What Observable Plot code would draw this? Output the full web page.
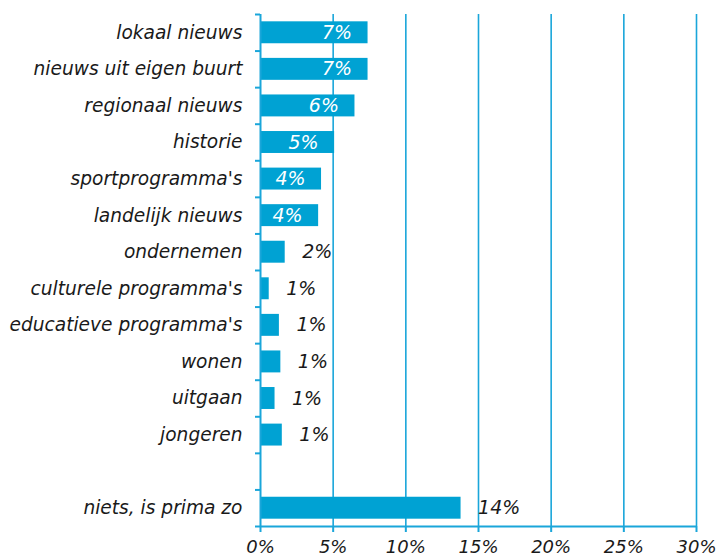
<!DOCTYPE html>
<html><head><meta charset="utf-8">
<script src="https://cdn.jsdelivr.net/npm/d3@7"></script>
<script src="https://cdn.jsdelivr.net/npm/@observablehq/plot@0.6"></script>
<style>body{margin:0;background:#fff}</style>
</head><body><div id="chart"></div>
<script>
const categories = ["lokaal nieuws", "nieuws uit eigen buurt", "regionaal nieuws", "historie", "sportprogramma's", "landelijk nieuws", "ondernemen", "culturele programma's", "educatieve programma's", "wonen", "uitgaan", "jongeren", "", "niets, is prima zo"];
const values = [7.4, 7.4, 6.5, 5.1, 4.2, 4.0, 1.7, 0.6, 1.3, 1.4, 1.0, 1.5, null, 13.8];
const valueLabels = ["7%", "7%", "6%", "5%", "4%", "4%", "2%", "1%", "1%", "1%", "1%", "1%", "", "14%"];
const xTicks = [0, 5, 10, 15, 20, 25, 30];

const blue = "#00a2d3";
const lineBlue = "#1aa6da";
const ink = "#1a1a1a";

const rows = categories.map((c, i) => ({i, cat: c, value: values[i], label: valueLabels[i]})).filter(d => d.value != null);
const boundaries = d3.range(categories.length + 1).map(k => k - 0.5);
const inside = d => d.value >= 4 && d.value < 10;

const chart = Plot.plot({
  width: 718, height: 558,
  marginLeft: 260, marginRight: 22, marginTop: 14, marginBottom: 32,
  style: {fontFamily: "'DejaVu Sans', Verdana, sans-serif", fontStyle: "italic", color: ink, background: "#fff"},
  x: {domain: [0, 30], label: null},
  y: {domain: [-0.5, categories.length - 0.5], reverse: true, label: null},
  marks: [
    Plot.gridX(xTicks.slice(1), {stroke: lineBlue, strokeOpacity: 1, strokeWidth: 1.6}),
    Plot.rectX(rows, {x1: 0, x2: "value", y1: d => d.i - 0.3, y2: d => d.i + 0.3, fill: blue}),
    Plot.ruleX([0], {stroke: lineBlue, strokeWidth: 2}),
    Plot.ruleY([categories.length - 0.5], {stroke: lineBlue, strokeWidth: 2}),
    Plot.axisY(boundaries, {tickSize: 5, tickFormat: () => "", stroke: lineBlue, strokeWidth: 2, label: null}),
    Plot.axisY(rows.map(d => d.i), {tickSize: 0, tickPadding: 18, tickFormat: i => categories[i], fontSize: 18.6, fill: ink, fontStyle: "italic", label: null}),
    Plot.axisX(xTicks, {tickSize: 6, tickPadding: 8, tickFormat: d => d + "%", stroke: lineBlue, strokeWidth: 2, fontSize: 18, fill: ink, fontStyle: "italic", label: null}),
    Plot.text(rows.filter(inside), {x: "value", y: "i", text: "label", textAnchor: "end", dx: -16, fill: "white", fontSize: 19, fontStyle: "italic"}),
    Plot.text(rows.filter(d => !inside(d)), {x: "value", y: "i", text: "label", textAnchor: "start", dx: 17, fill: ink, fontSize: 19, fontStyle: "italic"})
  ]
});
document.getElementById("chart").append(chart);
</script>
</body></html>
